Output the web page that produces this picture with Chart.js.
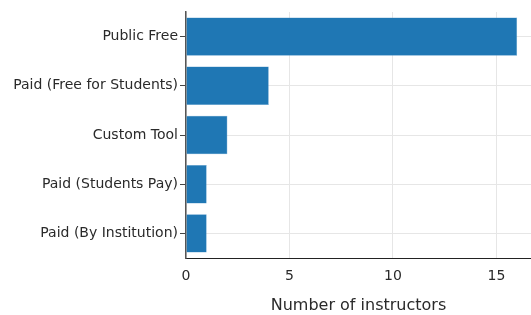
<!DOCTYPE html>
<html>
<head>
<meta charset="utf-8">
<script src="https://cdn.jsdelivr.net/npm/chart.js@4"></script>
<style>
  html, body { margin: 0; padding: 0; background: #fff; }
  #wrap { width: 531px; height: 315px; }
</style>
</head>
<body>
<div id="wrap"><canvas id="bar" width="531" height="315"></canvas></div>
<script>
(function () {
  // data
  const categories = ['Public Free', 'Paid (Free for Students)', 'Custom Tool', 'Paid (Students Pay)', 'Paid (By Institution)'];
  const counts = [16, 4, 2, 1, 1];
  const xTicks = [0, 5, 10, 15];

  const textColor = '#2a2a2a';
  const font = 'DejaVu Sans, sans-serif';

  new Chart(document.getElementById('bar'), {
    type: 'bar',
    data: {
      labels: categories,
      datasets: [{
        label: 'instructors',
        data: counts,
        backgroundColor: '#1f77b4',
        borderColor: '#5b9ccc',
        borderWidth: 0.5,
        barPercentage: 0.78,
        categoryPercentage: 1,
      }],
    },
    options: {
      indexAxis: 'y',
      responsive: false,
      animation: false,
      layout: { padding: { top: 12, right: 0, bottom: 0, left: 0 } },
      plugins: {
        legend: { display: false },
        tooltip: { enabled: false },
      },
      scales: {
        x: {
          min: 0,
          max: 16.67,
          afterBuildTicks: scale => {
            scale.ticks = xTicks.map(v => ({ value: v }));
          },
          afterFit: scale => { scale.height = 57; },
          grid: { color: '#e6e6e6', drawTicks: false },
          border: { color: '#222', width: 1 },
          ticks: { color: textColor, font: { family: font, size: 14 }, padding: 10 },
          title: {
            display: true,
            text: 'Number of instructors',
            color: textColor,
            font: { family: font, size: 16 },
            padding: { top: 0, bottom: 0 },
          },
        },
        y: {
          afterFit: scale => { scale.width = 186; },
          grid: { color: '#e6e6e6', offset: false, tickColor: '#444', tickLength: 6 },
          border: { color: '#555', width: 1.5 },
          ticks: { color: textColor, font: { family: font, size: 14 }, padding: 2 },
        },
      },
    },
  });
})();
</script>
</body>
</html>
